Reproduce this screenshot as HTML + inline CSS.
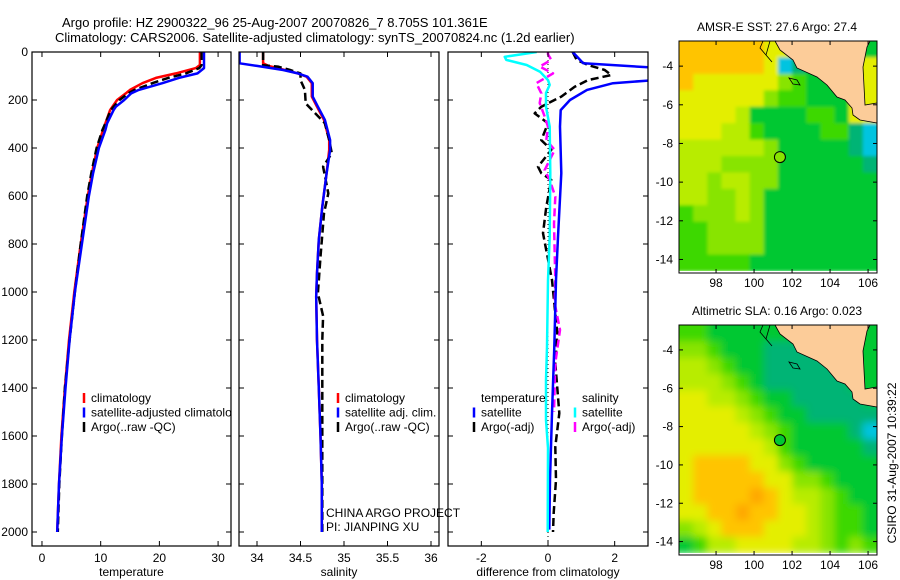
<!DOCTYPE html>
<html><head><meta charset="utf-8">
<style>
body{margin:0;background:#fff;}
svg{display:block;font-family:"Liberation Sans",Arial,sans-serif;}
text{font-size:12px;fill:#000;}
</style></head>
<body>
<svg id="fig" width="900" height="580" viewBox="0 0 900 580">
<defs>
<filter id="blurS" x="0" y="0" width="1" height="1"><feGaussianBlur stdDeviation="1.5"/></filter>
<filter id="blurL" x="0" y="0" width="1" height="1"><feGaussianBlur stdDeviation="4"/></filter>
</defs>
<rect width="900" height="580" fill="#fff"/>
<text x="62" y="27" style="font-size:13px">Argo profile: HZ 2900322_96 25-Aug-2007 20070826_7 8.705S 101.361E</text>
<text x="55" y="42" style="font-size:13px">Climatology: CARS2006. Satellite-adjusted climatology: synTS_20070824.nc (1.2d earlier)</text>
<g id="g"></g>
<text transform="translate(896,463) rotate(-90)" text-anchor="middle">CSIRO 31-Aug-2007 10:39:22</text>
</svg>
<script>
// ---- profile data ----
const tempDepth=[0,54,67,89,108,130,158,172,200,228,242,297,325,400,505,600,800,1000,1200,1400,1600,1800,2000];
const tempClim=[26.9,26.9,26.2,22.8,19.4,17.1,15.0,14.3,12.8,12.0,11.6,10.8,10.4,9.4,8.5,7.8,6.6,5.5,4.6,3.9,3.3,2.9,2.6];
const tempSat=[27.6,27.6,27.6,26.5,23.3,20.5,16.5,15.2,14.0,12.6,12.2,11.1,10.8,9.7,8.7,8.0,6.8,5.6,4.7,4.0,3.4,2.9,2.6];
const tempArgo=[27.2,27.2,26.8,24.5,21.5,18.8,15.8,14.7,13.2,12.2,11.7,10.8,10.3,9.3,8.4,7.7,6.6,5.6,4.7,3.9,3.4,2.95,2.7];
const salDepth=[0,47,58,75,89,103,130,186,228,283,367,408,505,644,783,922,1020,1200,1400,1600,1800,2000];
const salClim=[34.07,34.07,34.13,34.32,34.47,34.57,34.63,34.63,34.69,34.77,34.83,34.83,34.80,34.75,34.71,34.69,34.68,34.69,34.71,34.73,34.745,34.745];
const salSat=[33.8,33.8,34.0,34.3,34.47,34.58,34.64,34.64,34.70,34.78,34.84,34.84,34.80,34.75,34.71,34.69,34.68,34.69,34.71,34.73,34.745,34.745];
const salArgoDepth=[0,55,61,75,89,117,158,214,256,297,367,422,478,589,672,853,1005,1100,1200,1400,1600,1800,2000];
const salArgo=[34.07,34.07,34.24,34.38,34.5,34.5,34.55,34.56,34.67,34.78,34.83,34.86,34.76,34.82,34.77,34.73,34.70,34.76,34.75,34.75,34.75,34.75,34.75];
const dTempSatDepth=[0,47,68,82,100,117,130,158,200,242,311,505,770,950,1229,1505,1783,1990];
const dTempSat=[0.74,1.06,3.5,5,4.5,3.2,1.95,1.17,0.66,0.38,0.36,0.4,0.3,0.24,0.19,0.12,0.06,0.04];
const dTempArgoDepth=[0,33,54,75,96,117,145,186,228,256,297,367,408,478,505,533,645,755,950,1090,1170,1296,1505,1645,1783,1920,2000];
const dTempArgo=[0.74,0.86,1.2,1.7,1.9,1.2,0.8,0.4,-0.2,-0.4,0,-0.2,0.1,-0.3,-0.2,0.1,-0.05,-0.15,0.12,0.22,0.28,0.22,0.34,0.22,0.24,0.17,0.15];
const dSalSatDepth=[0,20,33,54,82,117,137,171,228,311,505,770,950,1229,1367,1533,1650,2000];
const dSalSat=[-0.34,-1.3,-1.25,-0.64,-0.24,0,0.05,-0.06,-0.06,0.05,0.07,0.05,0,-0.03,-0.06,-0.06,0,-0.01];
const dSalArgoDepth=[0,10,33,61,89,130,172,213,269,311,367,408,492,533,603,714,950,1047,1158,1296,1500];
const dSalArgo=[0,0,0.1,-0.25,0.15,-0.35,-0.2,-0.25,-0.1,0,-0.05,0.2,-0.1,0.05,0.22,0.18,0.22,0.2,0.36,0.22,0.18];
const depthTicks=[0,200,400,600,800,1000,1200,1400,1600,1800,2000];
const tempTicks=[0,10,20,30];
const salTicks=[34,34.5,35,35.5,36];
const diffTicks=[-2,0,2];
// ---- map data (lat rows top->bottom, lon cols left->right; colour level 0-9) ----
const sstGrid=["88888877333333","88888871233377","87777775433377","77777754433377","77776333344377","77766433334421","66666653333321","66655553333332","66566553333333","66556533333333","45556533333333","44555533333333","44555533333333","44444333333333"];
const slaGrid=["44333333333333","55433322222333","66543322222233","66654322222233","77665433222223","77776543322222","77777654333321","77777764333332","78888775433333","78888877554333","78888987665433","77889887765443","56788877765443","34667777665454"];
const latTicks=[-4,-6,-8,-10,-12,-14];
const lonTicks=[98,100,102,104,106];
const argoLon=101.361, argoLat=-8.705;

const NS="http://www.w3.org/2000/svg";
const G=document.getElementById('g');
function mk(tag,attrs,parent){const e=document.createElementNS(NS,tag);for(const k in attrs)e.setAttribute(k,attrs[k]);(parent||G).appendChild(e);return e;}
const Y0=52,Y1=546;
const yD=d=>Y0+d*0.24;

const panels=[
 {name:'temperature',x0:32,x1:231,v0:-1.7,v1:32.2,ticks:tempTicks,label:'temperature'},
 {name:'salinity',x0:239,x1:439,v0:33.793,v1:36.092,ticks:salTicks,label:'salinity'},
 {name:'difference',x0:448,x1:648,v0:-3.0,v1:3.0,ticks:diffTicks,label:'difference from climatology'}
];
panels.forEach((p,i)=>{
  p.sx=v=>p.x0+(v-p.v0)/(p.v1-p.v0)*(p.x1-p.x0);
  const grp=mk('g',{});
  
  
  p.g=grp;
  const cp=mk('clipPath',{id:'cp'+i},grp);
  mk('rect',{x:p.x0,y:Y0,width:p.x1-p.x0,height:Y1-Y0},cp);
  p.plot=mk('g',{'clip-path':'url(#cp'+i+')'},grp);
  p.ticks.forEach(t=>{
    const x=p.sx(t);
    mk('line',{x1:x,x2:x,y1:Y1,y2:Y1-5,stroke:'#000'},grp);
    mk('line',{x1:x,x2:x,y1:Y0,y2:Y0+5,stroke:'#000'},grp);
    const tl=mk('text',{x:x,y:Y1+16,'text-anchor':'middle'},grp);
    tl.textContent=t;
    
    
  });
  depthTicks.forEach(d=>{
    mk('line',{x1:p.x0,x2:p.x0+5,y1:yD(d),y2:yD(d),stroke:'#000'},grp);
    mk('line',{x1:p.x1,x2:p.x1-5,y1:yD(d),y2:yD(d),stroke:'#000'},grp);
    if(i===0){const tl=mk('text',{x:28,y:yD(d)+4,'text-anchor':'end'},grp);tl.textContent=d;
      
      }
  });
  const xl=mk('text',{x:(p.x0+p.x1)/2,y:Y1+30,'text-anchor':'middle'},grp);
  xl.textContent=p.label;
  
  
});
function series(p,depths,vals,color,w,dash,name){
  const pts=vals.map((v,k)=>p.sx(v).toFixed(1)+','+yD(depths[k]).toFixed(1)).join(' ');
  const a={points:pts,fill:'none',stroke:color,'stroke-width':w,'stroke-linejoin':'round'};
  if(dash)a['stroke-dasharray']=dash;
  const e=mk('polyline',a,p.plot);
  
  
}
const [P1,P2,P3]=panels;
series(P1,tempDepth,tempClim,'#f00',2.5,null,'temp-climatology-line');
series(P1,tempDepth,tempArgo,'#000',2.5,'8,4','temp-argo-line');
series(P1,tempDepth,tempSat,'#00f',2.5,null,'temp-satellite-line');
series(P2,salDepth,salClim,'#f00',2.5,null,'sal-climatology-line');
series(P2,salArgoDepth,salArgo,'#000',2.5,'8,4','sal-argo-line');
series(P2,salDepth,salSat,'#00f',2.5,null,'sal-satellite-line');
mk('line',{x1:P3.sx(0),x2:P3.sx(0),y1:Y0,y2:Y1,stroke:'#000','stroke-dasharray':'1,3'},P3.plot);
series(P3,dTempArgoDepth,dTempArgo,'#000',2.5,'8,4','dtemp-argo-line');
series(P3,dSalArgoDepth,dSalArgo,'#f0f',2.5,'8,4','dsal-argo-line');
series(P3,dTempSatDepth,dTempSat,'#00f',2.5,null,'dtemp-satellite-line');
series(P3,dSalSatDepth,dSalSat,'#0ff',2.5,null,'dsal-satellite-line');
panels.forEach(p=>mk('rect',{x:p.x0,y:Y0,width:p.x1-p.x0,height:Y1-Y0,fill:'none',stroke:'#000','stroke-width':1.2},p.g));

function legend(items,x,y,parent,nm){
  const lg=mk('g',{},parent);
  
  
  items.forEach((it,k)=>{
    const yy=y+k*14.5;
    if(it[1])mk('line',{x1:x,x2:x,y1:yy-9,y2:yy+1,stroke:it[1],'stroke-width':2.5},lg);
    const t=mk('text',{x:x+7,y:yy},lg);t.textContent=it[0];
  });
  return lg;
}
legend([['climatology','#f00'],['satellite-adjusted climatology','#00f'],['Argo(..raw -QC)','#000']],84,402,P1.g,'temperature-legend').setAttribute('clip-path','url(#cp0)');
legend([['climatology','#f00'],['satellite adj. clim.','#00f'],['Argo(..raw -QC)','#000']],338,402,P2.g,'salinity-legend');
legend([['temperature',null],['satellite','#00f'],['Argo(-adj)','#000']],474,402,P3.g,'temp-diff-legend');
legend([['salinity',null],['satellite','#0ff'],['Argo(-adj)','#f0f']],575,402,P3.g,'sal-diff-legend');
const pi=mk('text',{x:326,y:517},P2.g);pi.textContent='CHINA ARGO PROJECT';


const pi2=mk('text',{x:326,y:531},P2.g);pi2.textContent='PI: JIANPING XU';



// ---- maps ----
const cmap=['#0050d0','#00c4e0','#00b474','#00c832','#3cd800','#88e400','#b8ec00','#e4ee00','#ffc400','#ffa800'];
function drawMap(grid,top,bottom,title,nm,idx,filt,markerFill){
  const x0=679,x1=877,lon0=96.05,lon1=106.47,lat0=-2.7,lat1=-14.7;
  const sx=l=>x0+(l-lon0)/(lon1-lon0)*(x1-x0);
  const sy=l=>top+(l-lat0)/(lat1-lat0)*(bottom-top);
  const mg=mk('g',{});
  
  
  const cp=mk('clipPath',{id:'mcp'+idx},mg);
  mk('rect',{x:x0,y:top,width:x1-x0,height:bottom-top},cp);
  const clipG=mk('g',{'clip-path':'url(#mcp'+idx+')'},mg);
  const cells=mk('g',{filter:'url(#'+filt+')'},clipG);
  const rows=grid.length,cols=grid[0].length;
  const cw=(x1-x0)/cols,ch=(bottom-2-top)/rows;
  grid.forEach((r,ri)=>{for(let c=0;c<cols;c++){
    mk('rect',{x:x0+c*cw-(c===0?12:0),y:top+ri*ch-(ri===0?12:0),width:cw+0.5+(c===0||c===cols-1?12:0),height:ch+0.5+(ri===0?12:0),fill:cmap[+r[c]]},cells);
  }});
  mk('rect',{x:x0,y:bottom-2,width:x1-x0,height:2,fill:'#fff'},clipG);
  const off=top-41;
  const land=[[775,41],[780,50],[793,60],[797,68],[817,77],[827,85],[837,97],[845,100],[852,108],[853,115],[860,120],[877,123],[877,103],[865,105],[863,67],[867,47],[870,41]];
  const lp=mk('polygon',{points:land.map(p=>p[0]+','+(p[1]+off)).join(' '),fill:'#fccc99',stroke:'#000','stroke-width':0.8},mg);
  
  
  mk('polygon',{points:[[763,41],[770,41],[766,55],[772,62],[760,48]].map(p=>p[0]+','+(p[1]+off)).join(' '),fill:'none',stroke:'#000','stroke-width':0.8},mg);
  mk('polygon',{points:[[789,78],[797,80],[800,85],[793,84]].map(p=>p[0]+','+(p[1]+off)).join(' '),fill:'none',stroke:'#000','stroke-width':0.8},mg);
  const mkr=mk('circle',{cx:sx(argoLon),cy:sy(argoLat),r:5.5,fill:markerFill,stroke:'#000'},mg);
  
  
  mk('rect',{x:x0,y:top,width:x1-x0,height:bottom-top,fill:'none',stroke:'#000'},mg);
  latTicks.forEach(l=>{const y=sy(l);
    mk('line',{x1:x0,x2:x0+4,y1:y,y2:y,stroke:'#000'},mg);
    mk('line',{x1:x1,x2:x1-4,y1:y,y2:y,stroke:'#000'},mg);
    const t=mk('text',{x:673,y:y+4,'text-anchor':'end'},mg);t.textContent=l;});
  lonTicks.forEach(l=>{const x=sx(l);
    mk('line',{x1:x,x2:x,y1:bottom,y2:bottom-4,stroke:'#000'},mg);
    mk('line',{x1:x,x2:x,y1:top,y2:top+4,stroke:'#000'},mg);
    const t=mk('text',{x:x,y:bottom+14,'text-anchor':'middle'},mg);t.textContent=l;});
  const tt=mk('text',{x:777,y:top-10,'text-anchor':'middle'},mg);tt.textContent=title;
  
  
}
drawMap(sstGrid,41,273,'AMSR-E SST: 27.6 Argo: 27.4','sst-map',0,'blurS','#88e400');
drawMap(slaGrid,325,555,'Altimetric SLA: 0.16 Argo: 0.023','sla-map',1,'blurL','#00c832');
</script>
</body></html>
